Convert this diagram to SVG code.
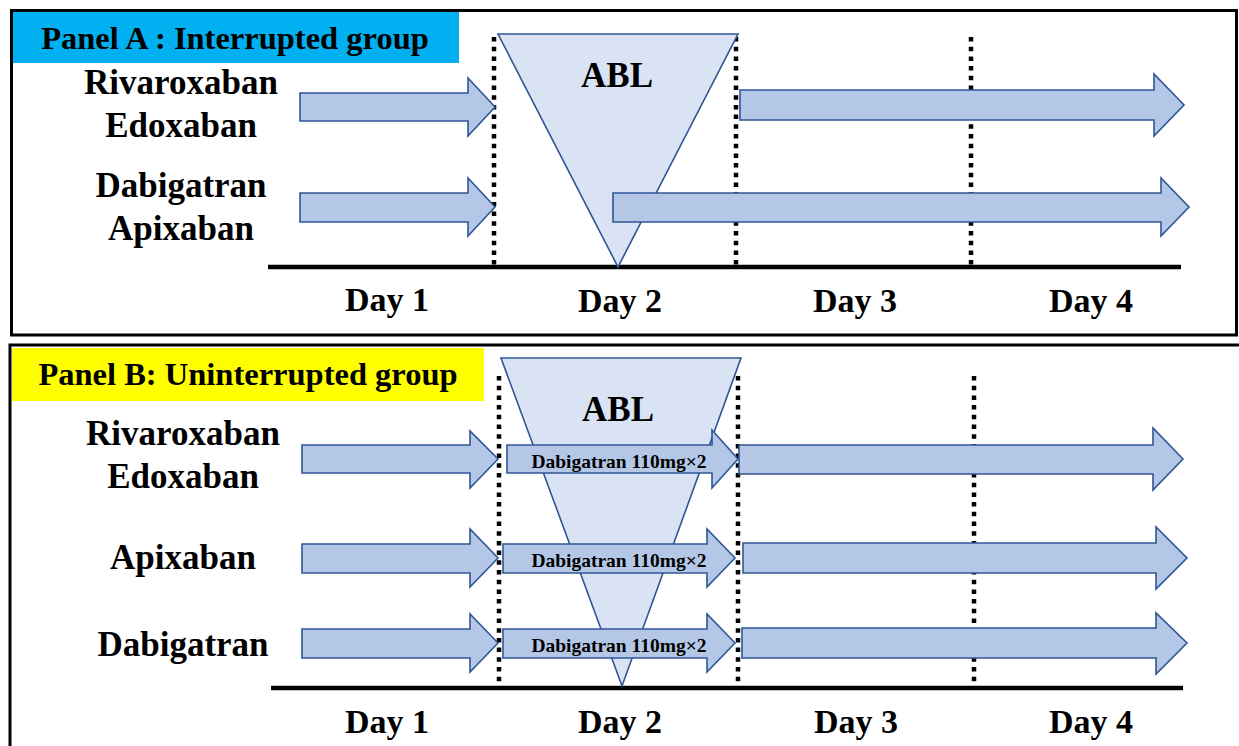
<svg xmlns="http://www.w3.org/2000/svg" width="1239" height="746" viewBox="0 0 1239 746">
  <style>
    .frame { fill: none; stroke: #000; stroke-width: 3; }
    .lbl { font-family: "Liberation Serif", "Times New Roman", serif; font-weight: bold; fill: #000; text-anchor: middle; }
    .title { font-size: 32.5px; }
    .drug { font-size: 35px; }
    .day { font-size: 34px; }
    .abl { font-size: 35px; }
    .dose { font-size: 19.5px; }
    .arrow { fill: #B4C7E7; stroke: #2F5597; stroke-width: 1.6; stroke-linejoin: miter; }
    .tri { fill: #DAE3F3; stroke: #2F5597; stroke-width: 1.6; }
    .dots { stroke: #000; stroke-width: 4.5; stroke-dasharray: 4.5 5.2; fill: none; }
    .axis { stroke: #000; stroke-width: 4.5; }
  </style>

  <rect width="1239" height="746" fill="#fff"/>

  <!-- Panel A: interrupted anticoagulation -->
  <g id="panelA">
    <rect class="frame" x="11.5" y="10.5" width="1225" height="324.5"/>
    <g id="panelA-title">
      <rect x="13" y="12" width="446" height="51" fill="#00B0F0"/>
      <text class="lbl title" x="235" y="49">Panel A : Interrupted group</text>
    </g>
    <g id="panelA-drugs">
      <text class="lbl drug" x="181" y="94">Rivaroxaban</text>
      <text class="lbl drug" x="181" y="137">Edoxaban</text>
      <text class="lbl drug" x="181" y="197">Dabigatran</text>
      <text class="lbl drug" x="181" y="240">Apixaban</text>
    </g>
    <g id="panelA-grid">
      <line class="dots" x1="494" y1="37" x2="494" y2="266"/>
      <line class="dots" x1="736" y1="37" x2="736" y2="266"/>
      <line class="dots" x1="971" y1="37" x2="971" y2="266"/>
      <line class="axis" x1="268" y1="267" x2="1181" y2="267"/>
    </g>
    <g id="panelA-abl">
      <polygon class="tri" points="498,34 738,34 618,267"/>
      <text class="lbl abl" x="617" y="87">ABL</text>
    </g>
    <g id="panelA-days">
      <text class="lbl day" x="387" y="311">Day 1</text>
      <text class="lbl day" x="620" y="312">Day 2</text>
      <text class="lbl day" x="855" y="312">Day 3</text>
      <text class="lbl day" x="1091" y="312">Day 4</text>
    </g>
  </g>

  <!-- Panel A arrows -->
  <g id="panelA-arrows">
    <polygon class="arrow" points="300,93 468,93 468,78 495,107 468,136 468,121 300,121"/>
    <polygon class="arrow" points="300,193 468,193 468,178 495,207 468,236 468,222 300,222"/>
    <polygon class="arrow" points="740,90 1154,90 1154,74 1184,105 1154,136 1154,120 740,120"/>
    <polygon class="arrow" points="613,193 1161,193 1161,178 1189,207 1161,236 1161,222 613,222"/>
  </g>

  <!-- Panel B: uninterrupted anticoagulation -->
  <g id="panelB">
    <path class="frame" d="M10,746 V345 H1239"/>
    <g id="panelB-title">
      <rect x="12" y="348" width="472" height="53" fill="#FFFF00"/>
      <text class="lbl title" x="248" y="385">Panel B: Uninterrupted group</text>
    </g>
    <g id="panelB-drugs">
      <text class="lbl drug" x="183" y="445">Rivaroxaban</text>
      <text class="lbl drug" x="183" y="488">Edoxaban</text>
      <text class="lbl drug" x="183" y="569">Apixaban</text>
      <text class="lbl drug" x="183" y="656">Dabigatran</text>
    </g>
    <g id="panelB-grid">
      <line class="dots" x1="499" y1="376" x2="499" y2="690"/>
      <line class="dots" x1="738" y1="376" x2="738" y2="690"/>
      <line class="dots" x1="974" y1="376" x2="974" y2="690"/>
      <line class="axis" x1="271" y1="688" x2="1183" y2="688"/>
    </g>
    <g id="panelB-abl">
      <polygon class="tri" points="501,358 741,358 622,686"/>
      <text class="lbl abl" x="618" y="421">ABL</text>
    </g>
    <g id="panelB-days">
      <text class="lbl day" x="387" y="733">Day 1</text>
      <text class="lbl day" x="620" y="733">Day 2</text>
      <text class="lbl day" x="856" y="733">Day 3</text>
      <text class="lbl day" x="1091" y="733">Day 4</text>
    </g>
  </g>

  <!-- Panel B arrows -->
  <g id="panelB-arrows">
    <polygon class="arrow" points="302,445 470,445 470,431 498,459 470,488 470,473 302,473"/>
    <polygon class="arrow" points="302,544 470,544 470,529 498,558 470,587 470,573 302,573"/>
    <polygon class="arrow" points="302,629 470,629 470,614 498,643 470,672 470,658 302,658"/>

    <polygon class="arrow" points="507,445 712,445 712,430 738,459 712,488 712,473 507,473"/>
    <polygon class="arrow" points="503,544 707,544 707,529 735,558 707,587 707,573 503,573"/>
    <polygon class="arrow" points="503,629 707,629 707,614 735,643 707,672 707,658 503,658"/>

    <polygon class="arrow" points="739,445 1153,445 1153,428 1183,459 1153,490 1153,474 739,474"/>
    <polygon class="arrow" points="743,543 1156,543 1156,527 1187,558 1156,589 1156,573 743,573"/>
    <polygon class="arrow" points="742,628 1156,628 1156,613 1187,643 1156,674 1156,658 742,658"/>
  </g>

  <g id="panelB-doses">
    <text class="lbl dose" x="619" y="468">Dabigatran 110mg×2</text>
    <text class="lbl dose" x="619" y="567">Dabigatran 110mg×2</text>
    <text class="lbl dose" x="619" y="652">Dabigatran 110mg×2</text>
  </g>
</svg>
